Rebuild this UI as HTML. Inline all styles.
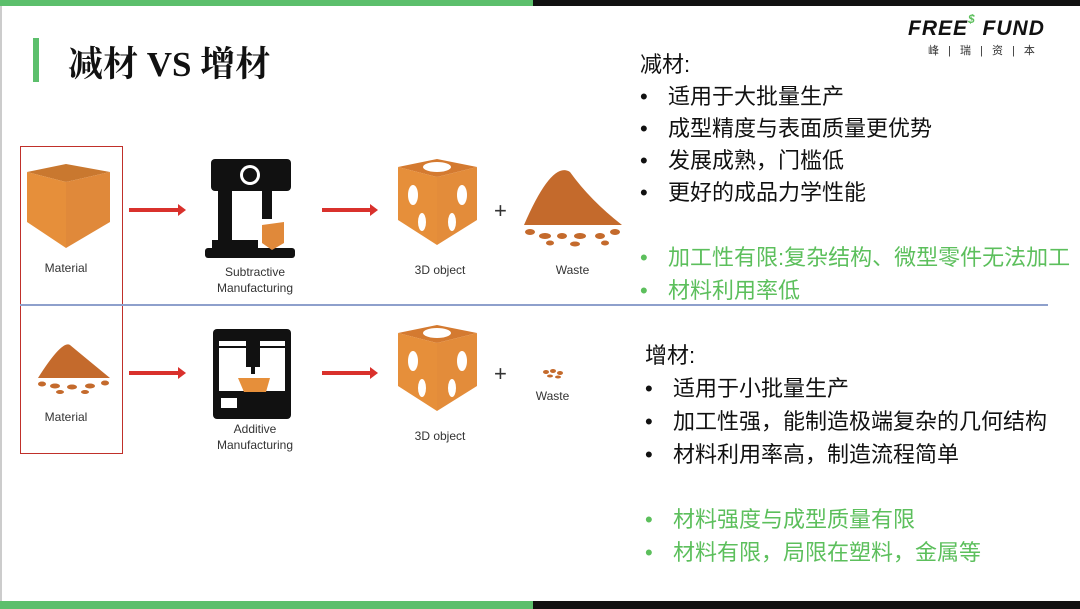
<!DOCTYPE html>
<html><head><meta charset="utf-8"><style>
body{margin:0;width:1080px;height:609px;position:relative;background:#fff;overflow:hidden;font-family:"Liberation Sans","Noto Sans CJK SC",sans-serif}
.a{position:absolute;white-space:nowrap}
.t{font-size:22px;color:#111;line-height:24px}
.t b{display:inline-block;width:28px;font-weight:normal}
.g{color:#5cbf5c}
.lab{font-size:12px;color:#333;text-align:center;line-height:16px}
</style></head><body>
<div class="a" style="left:0;top:0;width:533px;height:6px;background:#5cbf6c"></div>
<div class="a" style="left:533px;top:0;width:547px;height:6px;background:#111"></div>
<div class="a" style="left:0;top:601px;width:533px;height:8px;background:#5cbf6c"></div>
<div class="a" style="left:533px;top:601px;width:547px;height:8px;background:#111"></div>
<div class="a" style="left:0;top:6px;width:2px;height:595px;background:#ccc"></div>
<div class="a" style="left:33px;top:38px;width:6px;height:44px;background:#5cbf6c"></div>
<div class="a" style="left:68px;top:37px;font-size:35px;font-weight:bold;font-family:'Liberation Serif','Noto Serif CJK SC',serif;color:#111">减材 VS 增材</div>
<div class="a" style="left:908px;top:17px;font-size:21px;font-weight:bold;font-style:italic;letter-spacing:1px;color:#111">FREE<span style="color:#5cbf5c;font-size:12px;position:relative;top:-12px">$</span> FUND</div>
<div class="a" style="left:928px;top:42px;font-size:11px;color:#333;letter-spacing:3px">峰 | 瑞 | 资 | 本</div>

<div class="a" style="left:20px;top:146px;width:103px;height:308px;border:1.5px solid #c0302a;box-sizing:border-box"></div>
<div class="a" style="left:20px;top:304px;width:1028px;height:1.5px;background:#8ea0cc"></div>

<svg class="a" style="left:0;top:0" width="640" height="609">
<polygon points="27,172 66,164 110,172 66,182" fill="#c9782f"/>
<polygon points="27,172 66,182 66,248 27,222" fill="#e68f3a"/>
<polygon points="66,182 110,172 110,222 66,248" fill="#e0893a"/>
<g stroke="#d9312c" stroke-width="4"><line x1="129" y1="210" x2="180" y2="210"/><line x1="322" y1="210" x2="372" y2="210"/><line x1="129" y1="373" x2="180" y2="373"/><line x1="322" y1="373" x2="372" y2="373"/></g>
<g fill="#d9312c"><polygon points="178,204 186,210 178,216"/><polygon points="370,204 378,210 370,216"/><polygon points="178,367 186,373 178,379"/><polygon points="370,367 378,373 370,379"/></g>
<rect x="211" y="159" width="80" height="32" rx="4" fill="#111"/>
<rect x="218" y="191" width="14" height="55" fill="#111"/>
<rect x="262" y="191" width="10" height="28" fill="#111"/>
<rect x="212" y="240" width="46" height="8" fill="#111"/>
<rect x="205" y="248" width="90" height="10" rx="3" fill="#111"/>
<circle cx="250" cy="175" r="10" fill="#fff"/><circle cx="250" cy="175" r="7" fill="#111"/>
<polygon points="262,225 284,222 284,243 272,250 262,243" fill="#e0893a"/>
<g id="cube3"><polygon points="398,167 437,159 477,167 437,177" fill="#d47a30"/>
<polygon points="398,167 437,177 437,245 398,220" fill="#e68f3a"/>
<polygon points="437,177 477,167 477,220 437,245" fill="#e38c3a"/>
<ellipse cx="437" cy="167" rx="14" ry="5" fill="#fff"/>
<ellipse cx="413" cy="195" rx="5" ry="10" fill="#fff"/><ellipse cx="422" cy="222" rx="4" ry="9" fill="#fff"/>
<ellipse cx="462" cy="195" rx="5" ry="10" fill="#fff"/><ellipse cx="452" cy="222" rx="4" ry="9" fill="#fff"/></g>
<use href="#cube3" y="166"/>
<text x="494" y="218" font-size="22" fill="#333">+</text>
<text x="494" y="381" font-size="22" fill="#333">+</text>
<path d="M524,225 Q552,160 570,172 Q590,200 622,225 Z" fill="#c46a2c"/>
<g fill="#c46a2c"><ellipse cx="530" cy="232" rx="5" ry="3"/><ellipse cx="545" cy="236" rx="6" ry="3"/><ellipse cx="562" cy="236" rx="5" ry="3"/><ellipse cx="580" cy="236" rx="6" ry="3"/><ellipse cx="600" cy="236" rx="5" ry="3"/><ellipse cx="615" cy="232" rx="5" ry="3"/><ellipse cx="550" cy="243" rx="4" ry="2.5"/><ellipse cx="575" cy="244" rx="5" ry="2.5"/><ellipse cx="605" cy="243" rx="4" ry="2.5"/></g>
<path d="M38,378 Q62,340 70,345 Q82,355 110,378 Z" fill="#c46a2c"/>
<g fill="#c46a2c"><ellipse cx="42" cy="384" rx="4" ry="2.5"/><ellipse cx="55" cy="386" rx="5" ry="2.5"/><ellipse cx="72" cy="387" rx="5" ry="2.5"/><ellipse cx="90" cy="386" rx="5" ry="2.5"/><ellipse cx="105" cy="383" rx="4" ry="2.5"/><ellipse cx="60" cy="392" rx="4" ry="2"/><ellipse cx="85" cy="392" rx="4" ry="2"/></g>
<g fill="#c46a2c"><ellipse cx="546" cy="372" rx="3" ry="2"/><ellipse cx="553" cy="371" rx="3" ry="2"/><ellipse cx="560" cy="373" rx="3" ry="2"/><ellipse cx="550" cy="376" rx="3" ry="1.5"/><ellipse cx="558" cy="377" rx="3" ry="1.5"/></g>
<rect x="213" y="329" width="78" height="90" rx="4" fill="#111"/>
<rect x="219" y="341" width="66" height="50" fill="#fff"/>
<rect x="219" y="346" width="66" height="2" fill="#111"/>
<rect x="246" y="339" width="14" height="28" fill="#111"/>
<rect x="251" y="367" width="4" height="7" fill="#111"/>
<path d="M238,378 L270,378 L266,392 L244,392 Z" fill="#e68f3a"/>
<rect x="221" y="398" width="16" height="10" fill="#fff"/>
</svg>

<div class="a lab" style="left:20px;top:260px;width:92px">Material</div>
<div class="a lab" style="left:20px;top:409px;width:92px">Material</div>
<div class="a lab" style="left:200px;top:264px;width:110px">Subtractive<br>Manufacturing</div>
<div class="a lab" style="left:200px;top:421px;width:110px">Additive<br>Manufacturing</div>
<div class="a lab" style="left:390px;top:262px;width:100px">3D object</div>
<div class="a lab" style="left:390px;top:428px;width:100px">3D object</div>
<div class="a lab" style="left:530px;top:262px;width:85px">Waste</div>
<div class="a lab" style="left:510px;top:388px;width:85px">Waste</div>

<div class="a t" style="left:640px;top:53px">减材:</div>
<div class="a t" style="left:640px;top:85px"><b>•</b>适用于大批量生产</div>
<div class="a t" style="left:640px;top:117px"><b>•</b>成型精度与表面质量更优势</div>
<div class="a t" style="left:640px;top:149px"><b>•</b>发展成熟，门槛低</div>
<div class="a t" style="left:640px;top:181px"><b>•</b>更好的成品力学性能</div>
<div class="a t g" style="left:640px;top:246px"><b>•</b>加工性有限:复杂结构、微型零件无法加工</div>
<div class="a t g" style="left:640px;top:279px"><b>•</b>材料利用率低</div>
<div class="a t" style="left:645px;top:344px">增材:</div>
<div class="a t" style="left:645px;top:377px"><b>•</b>适用于小批量生产</div>
<div class="a t" style="left:645px;top:410px"><b>•</b>加工性强，能制造极端复杂的几何结构</div>
<div class="a t" style="left:645px;top:443px"><b>•</b>材料利用率高，制造流程简单</div>
<div class="a t g" style="left:645px;top:508px"><b>•</b>材料强度与成型质量有限</div>
<div class="a t g" style="left:645px;top:541px"><b>•</b>材料有限，局限在塑料，金属等</div>
</body></html>
